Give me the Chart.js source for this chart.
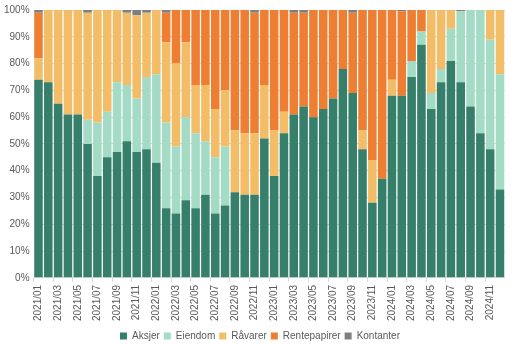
<!DOCTYPE html>
<html lang="no">
<head>
<meta charset="utf-8">
<title>Porteføljesammensetning</title>
<script src="https://cdn.jsdelivr.net/npm/chart.js@4.4.1/dist/chart.umd.min.js"></script>
<style>
  html, body { margin: 0; padding: 0; background: #fff; }
  .wrap { position: relative; width: 515px; height: 345px; }
</style>
</head>
<body>
<div class="wrap"><canvas id="allocationChart"></canvas></div>
<script>
const months = [
  '2021/01','2021/02','2021/03','2021/04','2021/05','2021/06','2021/07','2021/08','2021/09','2021/10','2021/11','2021/12',
  '2022/01','2022/02','2022/03','2022/04','2022/05','2022/06','2022/07','2022/08','2022/09','2022/10','2022/11','2022/12',
  '2023/01','2023/02','2023/03','2023/04','2023/05','2023/06','2023/07','2023/08','2023/09','2023/10','2023/11','2023/12',
  '2024/01','2024/02','2024/03','2024/04','2024/05','2024/06','2024/07','2024/08','2024/09','2024/10','2024/11','2024/12',
];

// andel i prosent per måned
const aksjer = [
  74, 73, 65, 61, 61, 50, 38, 45, 47, 51, 47, 48,
  43, 26, 24, 29, 26, 31, 24, 27, 32, 31, 31, 52,
  38, 54, 61, 64, 60, 63, 67, 78, 69, 48, 28, 37,
  68, 68, 75, 87, 63, 73, 81, 73, 64, 54, 48, 33,
];
const eiendom = [
   0,  0,  0,  0,  0,  9, 20, 17, 26, 21, 20, 27,
  33, 32, 25, 31, 28, 20, 21, 22,  0,  0,  0,  0,
   0,  0,  0,  0,  0,  0,  0,  0,  0,  0,  0,  0,
   0,  0,  6,  5,  6,  5, 12, 26.5, 36, 46, 41, 43,
];
const ravarer = [
   8, 27, 35, 39, 39, 40, 42, 38, 27, 27, 31, 24,
  24, 30, 31, 28, 18, 21, 18, 21, 23, 23, 23, 20,
  17,  8,  0,  0,  0,  0,  0,  0,  0,  7, 16,  0,
   6,  0,  0,  0, 31, 22,  7,  0,  0,  0, 11, 24,
];
const rentepapirer = [
  17,  0,  0,  0,  0,  0,  0,  0,  0,  0,  0,  0,
   0, 11, 20, 12, 28, 28, 37, 30, 45, 46, 45, 28,
  45, 38, 38, 35, 40, 37, 33, 22, 30, 45, 56, 63,
  26, 31.5, 19, 8,  0,  0,  0,  0,  0,  0,  0,  0,
];
const kontanter = [
   1,  0,  0,  0,  0,  1,  0,  0,  0,  1,  2,  1,
   0,  1,  0,  0,  0,  0,  0,  0,  0,  0,  1,  0,
   0,  0,  1,  1,  0,  0,  0,  0,  1,  0,  0,  0,
   0, 0.5, 0,  0,  0,  0,  0, 0.5, 0,  0,  0,  0,
];

const yTicks = [0, 10, 20, 30, 40, 50, 60, 70, 80, 90, 100];

document.addEventListener('DOMContentLoaded', () => {

  Chart.defaults.font.family = "'Liberation Sans', Arial, sans-serif";
  Chart.defaults.font.size   = 10;
  Chart.defaults.color       = '#595959';

  const gridColor = '#d9d9d9';

  const series = [
    { label: 'Aksjer',       data: aksjer,       color: '#367f6a' },
    { label: 'Eiendom',      data: eiendom,      color: '#a3dbc5' },
    { label: 'Råvarer',      data: ravarer,      color: '#f3bc66' },
    { label: 'Rentepapirer', data: rentepapirer, color: '#ed7e32' },
    { label: 'Kontanter',    data: kontanter,    color: '#7f7f7f' },
  ];

  new Chart(document.getElementById('allocationChart'), {
    type: 'bar',
    data: {
      labels: months,
      datasets: series.map(s => ({
        label:              s.label,
        data:               s.data,
        backgroundColor:    s.color,
        borderWidth:        0,
        barPercentage:      0.87,
        categoryPercentage: 1,
      })),
    },
    options: {
      responsive:          true,
      maintainAspectRatio: false,
      animation:           false,
      layout: { padding: { top: -2, right: -5, left: 0, bottom: -6 } },
      plugins: {
        legend: {
          position: 'bottom',
          labels: {
            boxWidth:  7,
            boxHeight: 7,
            padding:   4,
            font:      { size: 10, lineHeight: 1 },
            color:     '#595959',
          },
        },
        tooltip: { enabled: false },
      },
      scales: {
        x: {
          stacked: true,
          // leave some room between the month labels and the legend
          afterFit: scale => { scale.height += 3; },
          grid: {
            offset:          true,
            drawOnChartArea: false,
            tickLength:      4,
            color:           ctx => ctx.index % 2 === 0 ? gridColor : 'transparent',
          },
          border: { color: gridColor },
          ticks: {
            autoSkip:    false,
            maxRotation: 90,
            minRotation: 90,
            padding:     3,
            callback:    (v, i) => i % 2 === 0 ? months[i] : '',
          },
        },
        y: {
          stacked: true,
          min: 0, max: 100,
          afterBuildTicks: axis => { axis.ticks = yTicks.map(v => ({ value: v })); },
          grid:   { color: gridColor, drawTicks: false },
          border: { display: false },
          ticks:  { padding: 4, callback: v => v + '%' },
        },
      },
    },
  });

});
</script>
</body>
</html>
